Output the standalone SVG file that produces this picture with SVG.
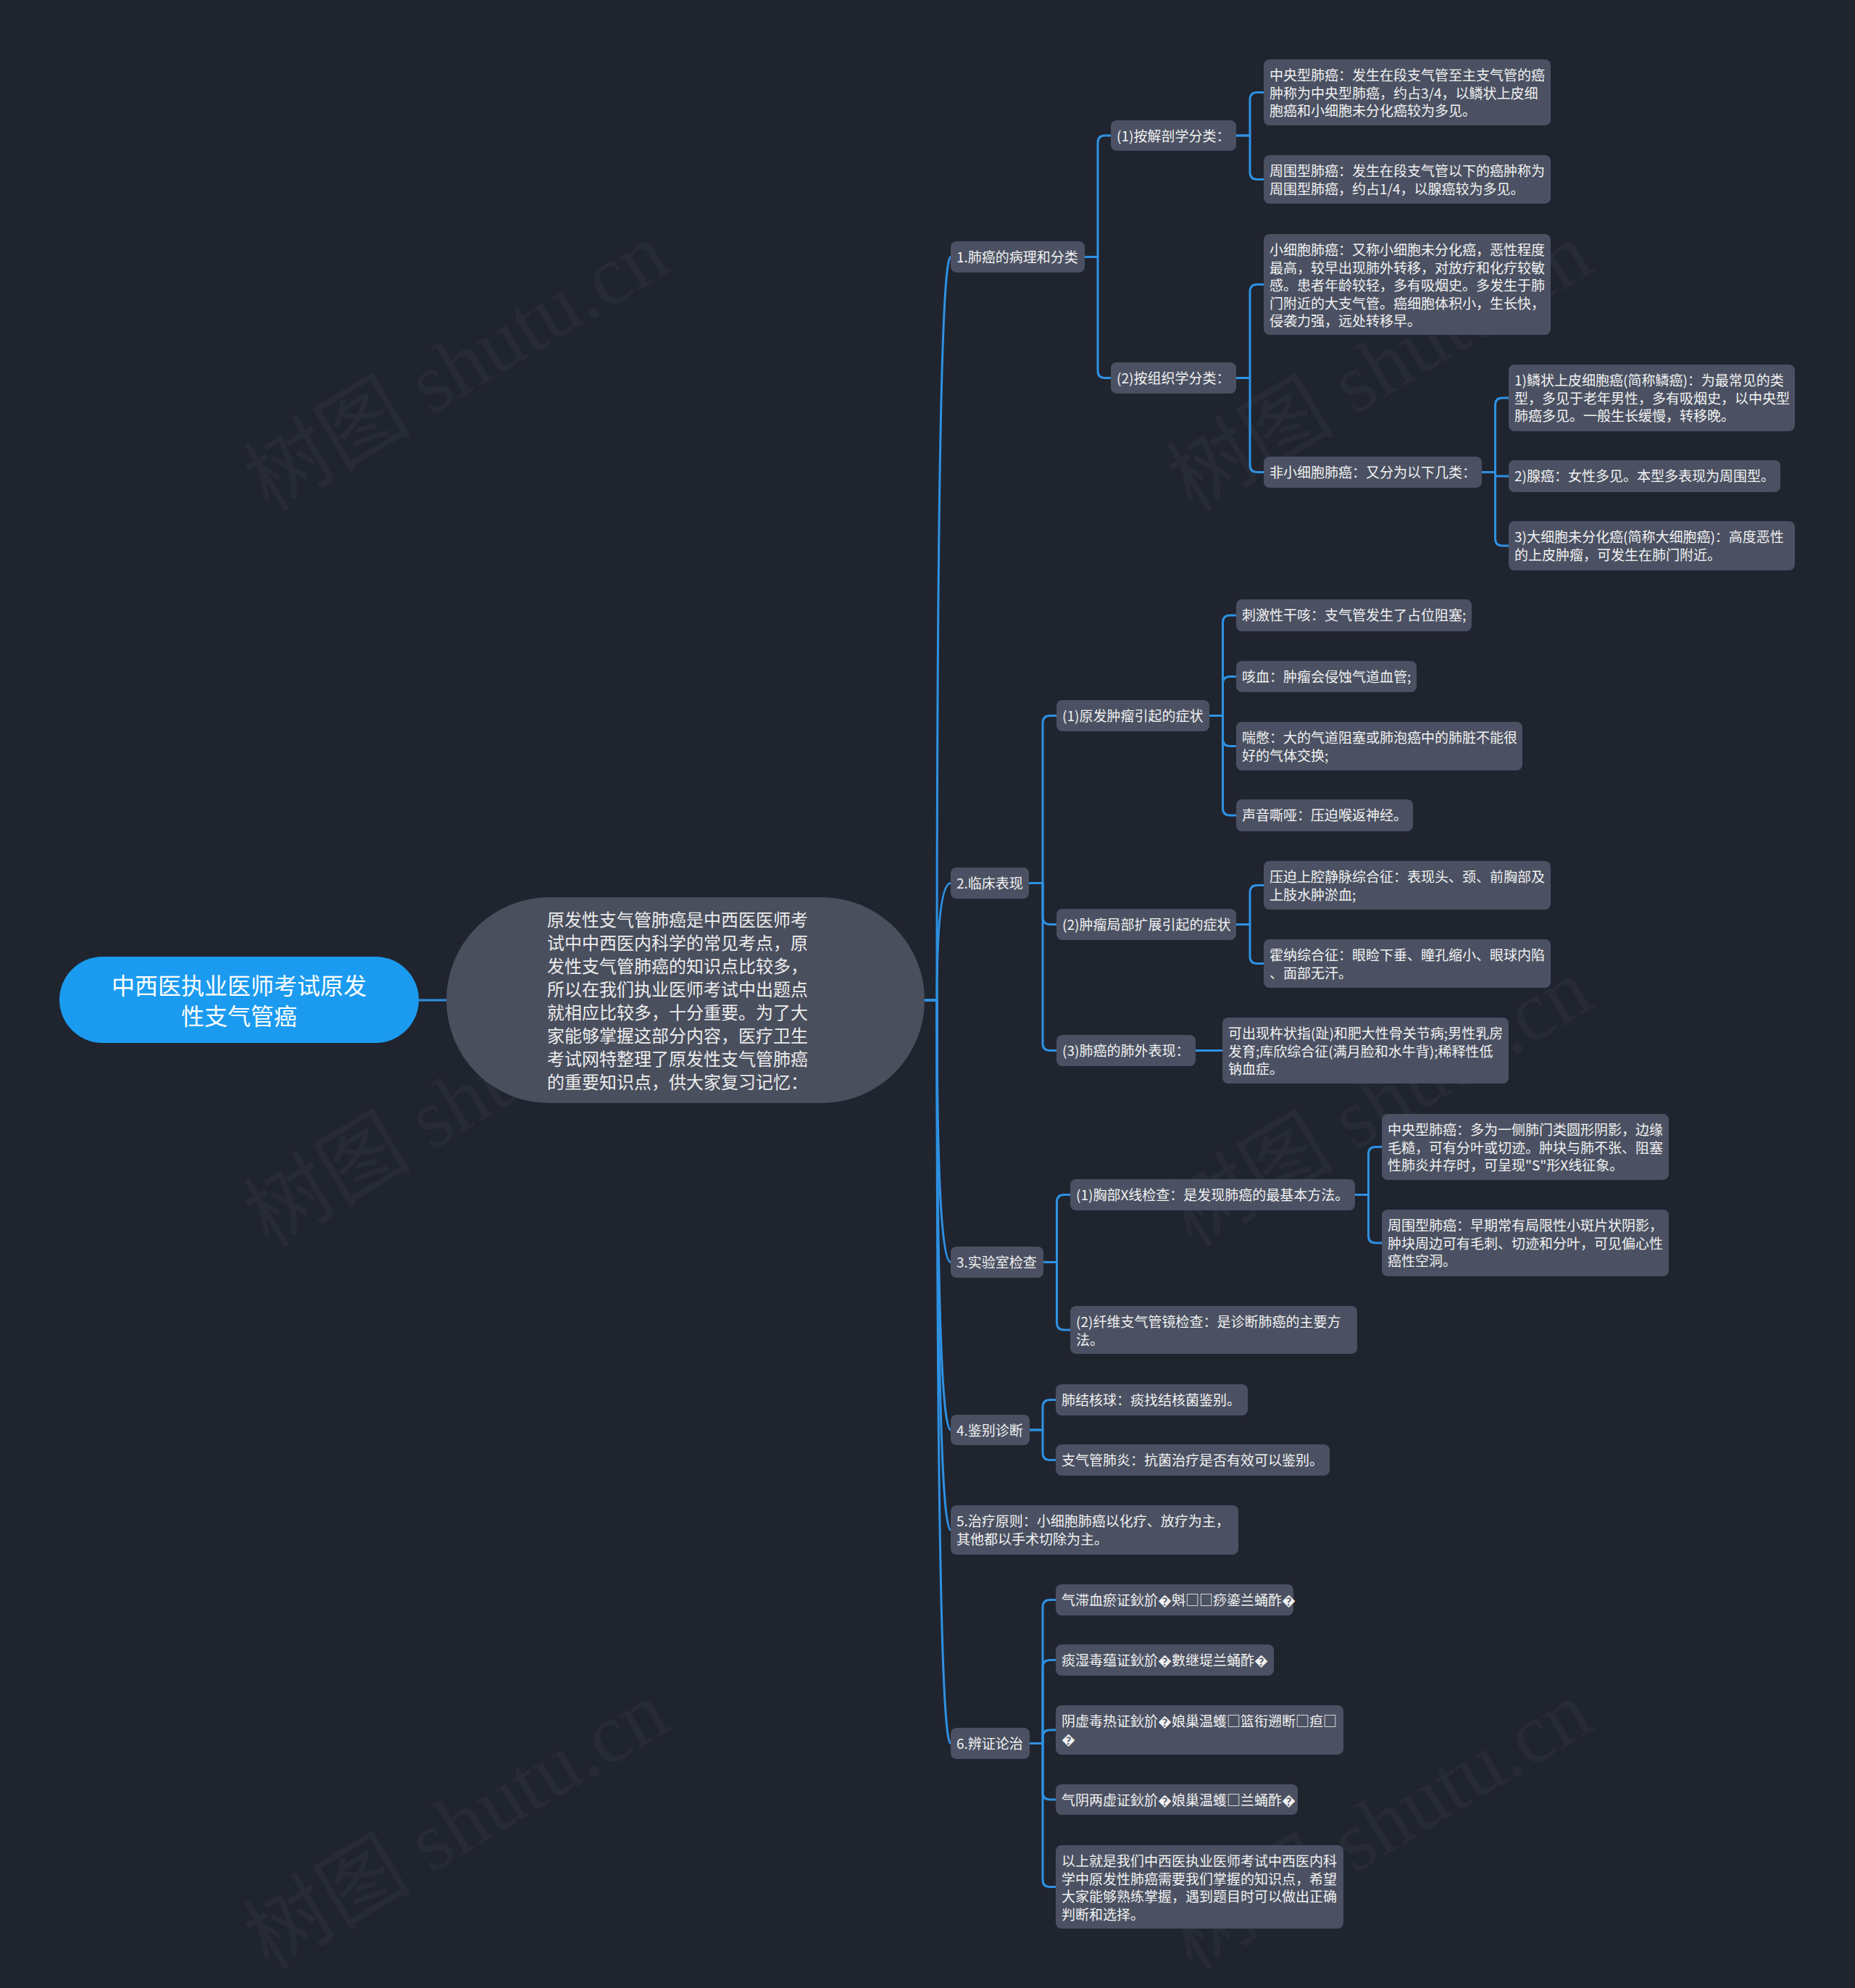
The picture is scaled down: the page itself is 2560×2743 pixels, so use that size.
<svg xmlns="http://www.w3.org/2000/svg" width="2560" height="2743" viewBox="0 0 2560 2743">
<style>
.bg{fill:#20242f}
.wm{font-family:"Liberation Serif","Noto Sans CJK SC",serif;font-size:116px;fill:#ffffff;fill-opacity:0.035;text-anchor:middle}
.n rect{fill:#4b5162}
.n text{font-family:"Noto Sans CJK SC","Noto Sans",sans-serif;font-size:19px;fill:#f2f2f2}
.c path{fill:none;stroke:#2e91e3;stroke-width:3;stroke-linecap:round;stroke-linejoin:round}
</style>
<rect class="bg" x="0" y="0" width="2560" height="2743"/>
<g id="watermarks">
<text class="wm" transform="translate(650,540) rotate(-31)">树图 shutu.cn</text>
<text class="wm" transform="translate(1924,540) rotate(-31)">树图 shutu.cn</text>
<text class="wm" transform="translate(650,1555) rotate(-31)">树图 shutu.cn</text>
<text class="wm" transform="translate(1924,1555) rotate(-31)">树图 shutu.cn</text>
<text class="wm" transform="translate(650,2552) rotate(-31)">树图 shutu.cn</text>
<text class="wm" transform="translate(1924,2552) rotate(-31)">树图 shutu.cn</text>
</g>
<g id="connectors" class="c">
<path d="M578 1380 H616"/>
<path d="M1276 1380 H1293 Q1293 354.5 1312 354.5"/>
<path d="M1276 1380 H1293 Q1293 1218.5 1312 1218.5"/>
<path d="M1276 1380 H1293 Q1293 1741.5 1312 1741.5"/>
<path d="M1276 1380 H1293 Q1293 1973 1312 1973"/>
<path d="M1276 1380 H1293 Q1293 2111 1312 2111"/>
<path d="M1276 1380 H1293 Q1293 2405.5 1312 2405.5"/>
<path d="M1497 354.5 H1515 V197 Q1515 187 1525 187 H1533"/>
<path d="M1497 354.5 H1515 V511.5 Q1515 521.5 1525 521.5 H1533"/>
<path d="M1706 187 H1725 V137.5 Q1725 127.5 1735 127.5 H1744"/>
<path d="M1706 187 H1725 V237.5 Q1725 247.5 1735 247.5 H1744"/>
<path d="M1706 521.5 H1725 V402.5 Q1725 392.5 1735 392.5 H1744"/>
<path d="M1706 521.5 H1725 V641.5 Q1725 651.5 1735 651.5 H1744"/>
<path d="M2045 651.5 H2063.5 V559 Q2063.5 549 2073.5 549 H2082"/>
<path d="M2045 651.5 H2063.5 V654.5 Q2063.5 657 2066 657 H2082"/>
<path d="M2045 651.5 H2063.5 V743 Q2063.5 753 2073.5 753 H2082"/>
<path d="M1420 1218.5 H1439 V997.5 Q1439 987.5 1449 987.5 H1458"/>
<path d="M1420 1218.5 H1439 V1265.5 Q1439 1275.5 1449 1275.5 H1458"/>
<path d="M1420 1218.5 H1439 V1439.5 Q1439 1449.5 1449 1449.5 H1458"/>
<path d="M1669 987.5 H1687.5 V859 Q1687.5 849 1697.5 849 H1706"/>
<path d="M1669 987.5 H1687.5 V943.5 Q1687.5 933.5 1697.5 933.5 H1706"/>
<path d="M1669 987.5 H1687.5 V1019.5 Q1687.5 1029.5 1697.5 1029.5 H1706"/>
<path d="M1669 987.5 H1687.5 V1115 Q1687.5 1125 1697.5 1125 H1706"/>
<path d="M1706 1275.5 H1725 V1231.5 Q1725 1221.5 1735 1221.5 H1744"/>
<path d="M1706 1275.5 H1725 V1319.5 Q1725 1329.5 1735 1329.5 H1744"/>
<path d="M1650 1449.5 H1687"/>
<path d="M1440 1741.5 H1458.5 V1658.5 Q1458.5 1648.5 1468.5 1648.5 H1477"/>
<path d="M1440 1741.5 H1458.5 V1825 Q1458.5 1835 1468.5 1835 H1477"/>
<path d="M1870 1648.5 H1888.5 V1592.5 Q1888.5 1582.5 1898.5 1582.5 H1907"/>
<path d="M1870 1648.5 H1888.5 V1705 Q1888.5 1715 1898.5 1715 H1907"/>
<path d="M1421 1973 H1439 V1941.5 Q1439 1931.5 1449 1931.5 H1457"/>
<path d="M1421 1973 H1439 V2004.5 Q1439 2014.5 1449 2014.5 H1457"/>
<path d="M1421 2405.5 H1439 V2217.5 Q1439 2207.5 1449 2207.5 H1457"/>
<path d="M1421 2405.5 H1439 V2300.5 Q1439 2290.5 1449 2290.5 H1457"/>
<path d="M1421 2405.5 H1439 V2397 Q1439 2387 1449 2387 H1457"/>
<path d="M1421 2405.5 H1439 V2473 Q1439 2483 1449 2483 H1457"/>
<path d="M1421 2405.5 H1439 V2593.5 Q1439 2603.5 1449 2603.5 H1457"/>
</g>
<g id="root">
<rect x="82" y="1320" width="496" height="119" rx="59.5" fill="#1b9bef"/>
<text font-family="Noto Sans CJK SC, sans-serif" font-size="32" fill="#ffffff" text-anchor="middle"><tspan x="330" y="1372">中西医执业医师考试原发</tspan><tspan x="330" y="1414">性支气管癌</tspan></text>
</g>
<g id="central">
<rect x="616" y="1238" width="660" height="284" rx="142" fill="#4a4f5e"/>
<text font-family="Noto Sans CJK SC, sans-serif" font-size="24" fill="#ececec"><tspan x="755" y="1278">原发性支气管肺癌是中西医医师考</tspan><tspan x="755" y="1310">试中中西医内科学的常见考点，原</tspan><tspan x="755" y="1342">发性支气管肺癌的知识点比较多，</tspan><tspan x="755" y="1374">所以在我们执业医师考试中出题点</tspan><tspan x="755" y="1406">就相应比较多，十分重要。为了大</tspan><tspan x="755" y="1438">家能够掌握这部分内容，医疗卫生</tspan><tspan x="755" y="1470">考试网特整理了原发性支气管肺癌</tspan><tspan x="755" y="1502">的重要知识点，供大家复习记忆：</tspan></text>
</g>
<g id="n1" class="n"><rect x="1312" y="333" width="185" height="43" rx="8"/><text x="1320" y="362">1.肺癌的病理和分类</text></g>
<g id="n1a" class="n"><rect x="1533" y="166" width="173" height="42" rx="8"/><text x="1541" y="195">(1)按解剖学分类：</text></g>
<g id="n1a1" class="n"><rect x="1744" y="82" width="396" height="91" rx="8"/><text><tspan x="1752" y="111">中央型肺癌：发生在段支气管至主支气管的癌</tspan><tspan x="1752" y="135.5">肿称为中央型肺癌，约占3/4，以鳞状上皮细</tspan><tspan x="1752" y="160">胞癌和小细胞未分化癌较为多见。</tspan></text></g>
<g id="n1a2" class="n"><rect x="1744" y="214" width="396" height="67" rx="8"/><text><tspan x="1752" y="243">周围型肺癌：发生在段支气管以下的癌肿称为</tspan><tspan x="1752" y="267.5">周围型肺癌，约占1/4，以腺癌较为多见。</tspan></text></g>
<g id="n1b" class="n"><rect x="1533" y="500" width="173" height="43" rx="8"/><text x="1541" y="529">(2)按组织学分类：</text></g>
<g id="n1b1" class="n"><rect x="1744" y="323" width="396" height="139" rx="8"/><text><tspan x="1752" y="352">小细胞肺癌：又称小细胞未分化癌，恶性程度</tspan><tspan x="1752" y="376.5">最高，较早出现肺外转移，对放疗和化疗较敏</tspan><tspan x="1752" y="401">感。患者年龄较轻，多有吸烟史。多发生于肺</tspan><tspan x="1752" y="425.5">门附近的大支气管。癌细胞体积小，生长快，</tspan><tspan x="1752" y="450">侵袭力强，远处转移早。</tspan></text></g>
<g id="n1b2" class="n"><rect x="1744" y="630" width="301" height="43" rx="8"/><text x="1752" y="659">非小细胞肺癌：又分为以下几类：</text></g>
<g id="n1b2a" class="n"><rect x="2082" y="503" width="395" height="92" rx="8"/><text><tspan x="2090" y="532">1)鳞状上皮细胞癌(简称鳞癌)：为最常见的类</tspan><tspan x="2090" y="556.5">型，多见于老年男性，多有吸烟史，以中央型</tspan><tspan x="2090" y="581">肺癌多见。一般生长缓慢，转移晚。</tspan></text></g>
<g id="n1b2b" class="n"><rect x="2082" y="635" width="375" height="44" rx="8"/><text x="2090" y="664">2)腺癌：女性多见。本型多表现为周围型。</text></g>
<g id="n1b2c" class="n"><rect x="2082" y="719" width="395" height="68" rx="8"/><text><tspan x="2090" y="748">3)大细胞未分化癌(简称大细胞癌)：高度恶性</tspan><tspan x="2090" y="772.5">的上皮肿瘤，可发生在肺门附近。</tspan></text></g>
<g id="n2" class="n"><rect x="1312" y="1197" width="108" height="43" rx="8"/><text x="1320" y="1226">2.临床表现</text></g>
<g id="n2a" class="n"><rect x="1458" y="966" width="211" height="43" rx="8"/><text x="1466" y="995">(1)原发肿瘤引起的症状</text></g>
<g id="n2a1" class="n"><rect x="1706" y="827" width="325" height="44" rx="8"/><text x="1714" y="856">刺激性干咳：支气管发生了占位阻塞;</text></g>
<g id="n2a2" class="n"><rect x="1706" y="912" width="249" height="43" rx="8"/><text x="1714" y="941">咳血：肿瘤会侵蚀气道血管;</text></g>
<g id="n2a3" class="n"><rect x="1706" y="996" width="395" height="67" rx="8"/><text><tspan x="1714" y="1025">喘憋：大的气道阻塞或肺泡癌中的肺脏不能很</tspan><tspan x="1714" y="1049.5">好的气体交换;</tspan></text></g>
<g id="n2a4" class="n"><rect x="1706" y="1103" width="244" height="44" rx="8"/><text x="1714" y="1132">声音嘶哑：压迫喉返神经。</text></g>
<g id="n2b" class="n"><rect x="1458" y="1254" width="248" height="43" rx="8"/><text x="1466" y="1283">(2)肿瘤局部扩展引起的症状</text></g>
<g id="n2b1" class="n"><rect x="1744" y="1188" width="396" height="67" rx="8"/><text><tspan x="1752" y="1217">压迫上腔静脉综合征：表现头、颈、前胸部及</tspan><tspan x="1752" y="1241.5">上肢水肿淤血;</tspan></text></g>
<g id="n2b2" class="n"><rect x="1744" y="1296" width="396" height="67" rx="8"/><text><tspan x="1752" y="1325">霍纳综合征：眼睑下垂、瞳孔缩小、眼球内陷</tspan><tspan x="1752" y="1349.5">、面部无汗。</tspan></text></g>
<g id="n2c" class="n"><rect x="1458" y="1428" width="192" height="43" rx="8"/><text x="1466" y="1457">(3)肺癌的肺外表现：</text></g>
<g id="n2c1" class="n"><rect x="1687" y="1404" width="395" height="91" rx="8"/><text><tspan x="1695" y="1433">可出现杵状指(趾)和肥大性骨关节病;男性乳房</tspan><tspan x="1695" y="1457.5">发育;库欣综合征(满月脸和水牛背);稀释性低</tspan><tspan x="1695" y="1482">钠血症。</tspan></text></g>
<g id="n3" class="n"><rect x="1312" y="1720" width="128" height="43" rx="8"/><text x="1320" y="1749">3.实验室检查</text></g>
<g id="n3a" class="n"><rect x="1477" y="1627" width="393" height="43" rx="8"/><text x="1485" y="1656">(1)胸部X线检查：是发现肺癌的最基本方法。</text></g>
<g id="n3a1" class="n"><rect x="1907" y="1537" width="396" height="91" rx="8"/><text><tspan x="1915" y="1566">中央型肺癌：多为一侧肺门类圆形阴影，边缘</tspan><tspan x="1915" y="1590.5">毛糙，可有分叶或切迹。肿块与肺不张、阻塞</tspan><tspan x="1915" y="1615">性肺炎并存时，可呈现"S"形X线征象。</tspan></text></g>
<g id="n3a2" class="n"><rect x="1907" y="1669" width="396" height="92" rx="8"/><text><tspan x="1915" y="1698">周围型肺癌：早期常有局限性小斑片状阴影，</tspan><tspan x="1915" y="1722.5">肿块周边可有毛刺、切迹和分叶，可见偏心性</tspan><tspan x="1915" y="1747">癌性空洞。</tspan></text></g>
<g id="n3b" class="n"><rect x="1477" y="1802" width="396" height="66" rx="8"/><text><tspan x="1485" y="1831">(2)纤维支气管镜检查：是诊断肺癌的主要方</tspan><tspan x="1485" y="1855.5">法。</tspan></text></g>
<g id="n4" class="n"><rect x="1312" y="1952" width="109" height="42" rx="8"/><text x="1320" y="1981">4.鉴别诊断</text></g>
<g id="n4a" class="n"><rect x="1457" y="1910" width="265" height="43" rx="8"/><text x="1465" y="1939">肺结核球：痰找结核菌鉴别。</text></g>
<g id="n4b" class="n"><rect x="1457" y="1993" width="378" height="43" rx="8"/><text x="1465" y="2022">支气管肺炎：抗菌治疗是否有效可以鉴别。</text></g>
<g id="n5" class="n"><rect x="1312" y="2077" width="397" height="68" rx="8"/><text><tspan x="1320" y="2106">5.治疗原则：小细胞肺癌以化疗、放疗为主，</tspan><tspan x="1320" y="2130.5">其他都以手术切除为主。</tspan></text></g>
<g id="n6" class="n"><rect x="1312" y="2384" width="109" height="43" rx="8"/><text x="1320" y="2413">6.辨证论治</text></g>
<g id="n6a" class="n"><rect x="1457" y="2186" width="328" height="43" rx="8"/><text x="1465" y="2215">气滞血瘀证鈥斺�斞□□痧鎏兰蛹酢�</text></g>
<g id="n6b" class="n"><rect x="1457" y="2269" width="301" height="43" rx="8"/><text x="1465" y="2298">痰湿毒蕴证鈥斺�數继堤兰蛹酢�</text></g>
<g id="n6c" class="n"><rect x="1457" y="2353" width="397" height="68" rx="8"/><text><tspan x="1465" y="2382">阴虚毒热证鈥斺�娘巢温蠖□篮衔遡断□疸□</tspan><tspan x="1465" y="2406.5">�</tspan></text></g>
<g id="n6d" class="n"><rect x="1457" y="2462" width="334" height="42" rx="8"/><text x="1465" y="2491">气阴两虚证鈥斺�娘巢温蠖□兰蛹酢�</text></g>
<g id="n6e" class="n"><rect x="1457" y="2546" width="397" height="115" rx="8"/><text><tspan x="1465" y="2575">以上就是我们中西医执业医师考试中西医内科</tspan><tspan x="1465" y="2599.5">学中原发性肺癌需要我们掌握的知识点，希望</tspan><tspan x="1465" y="2624">大家能够熟练掌握，遇到题目时可以做出正确</tspan><tspan x="1465" y="2648.5">判断和选择。</tspan></text></g>
</svg>
